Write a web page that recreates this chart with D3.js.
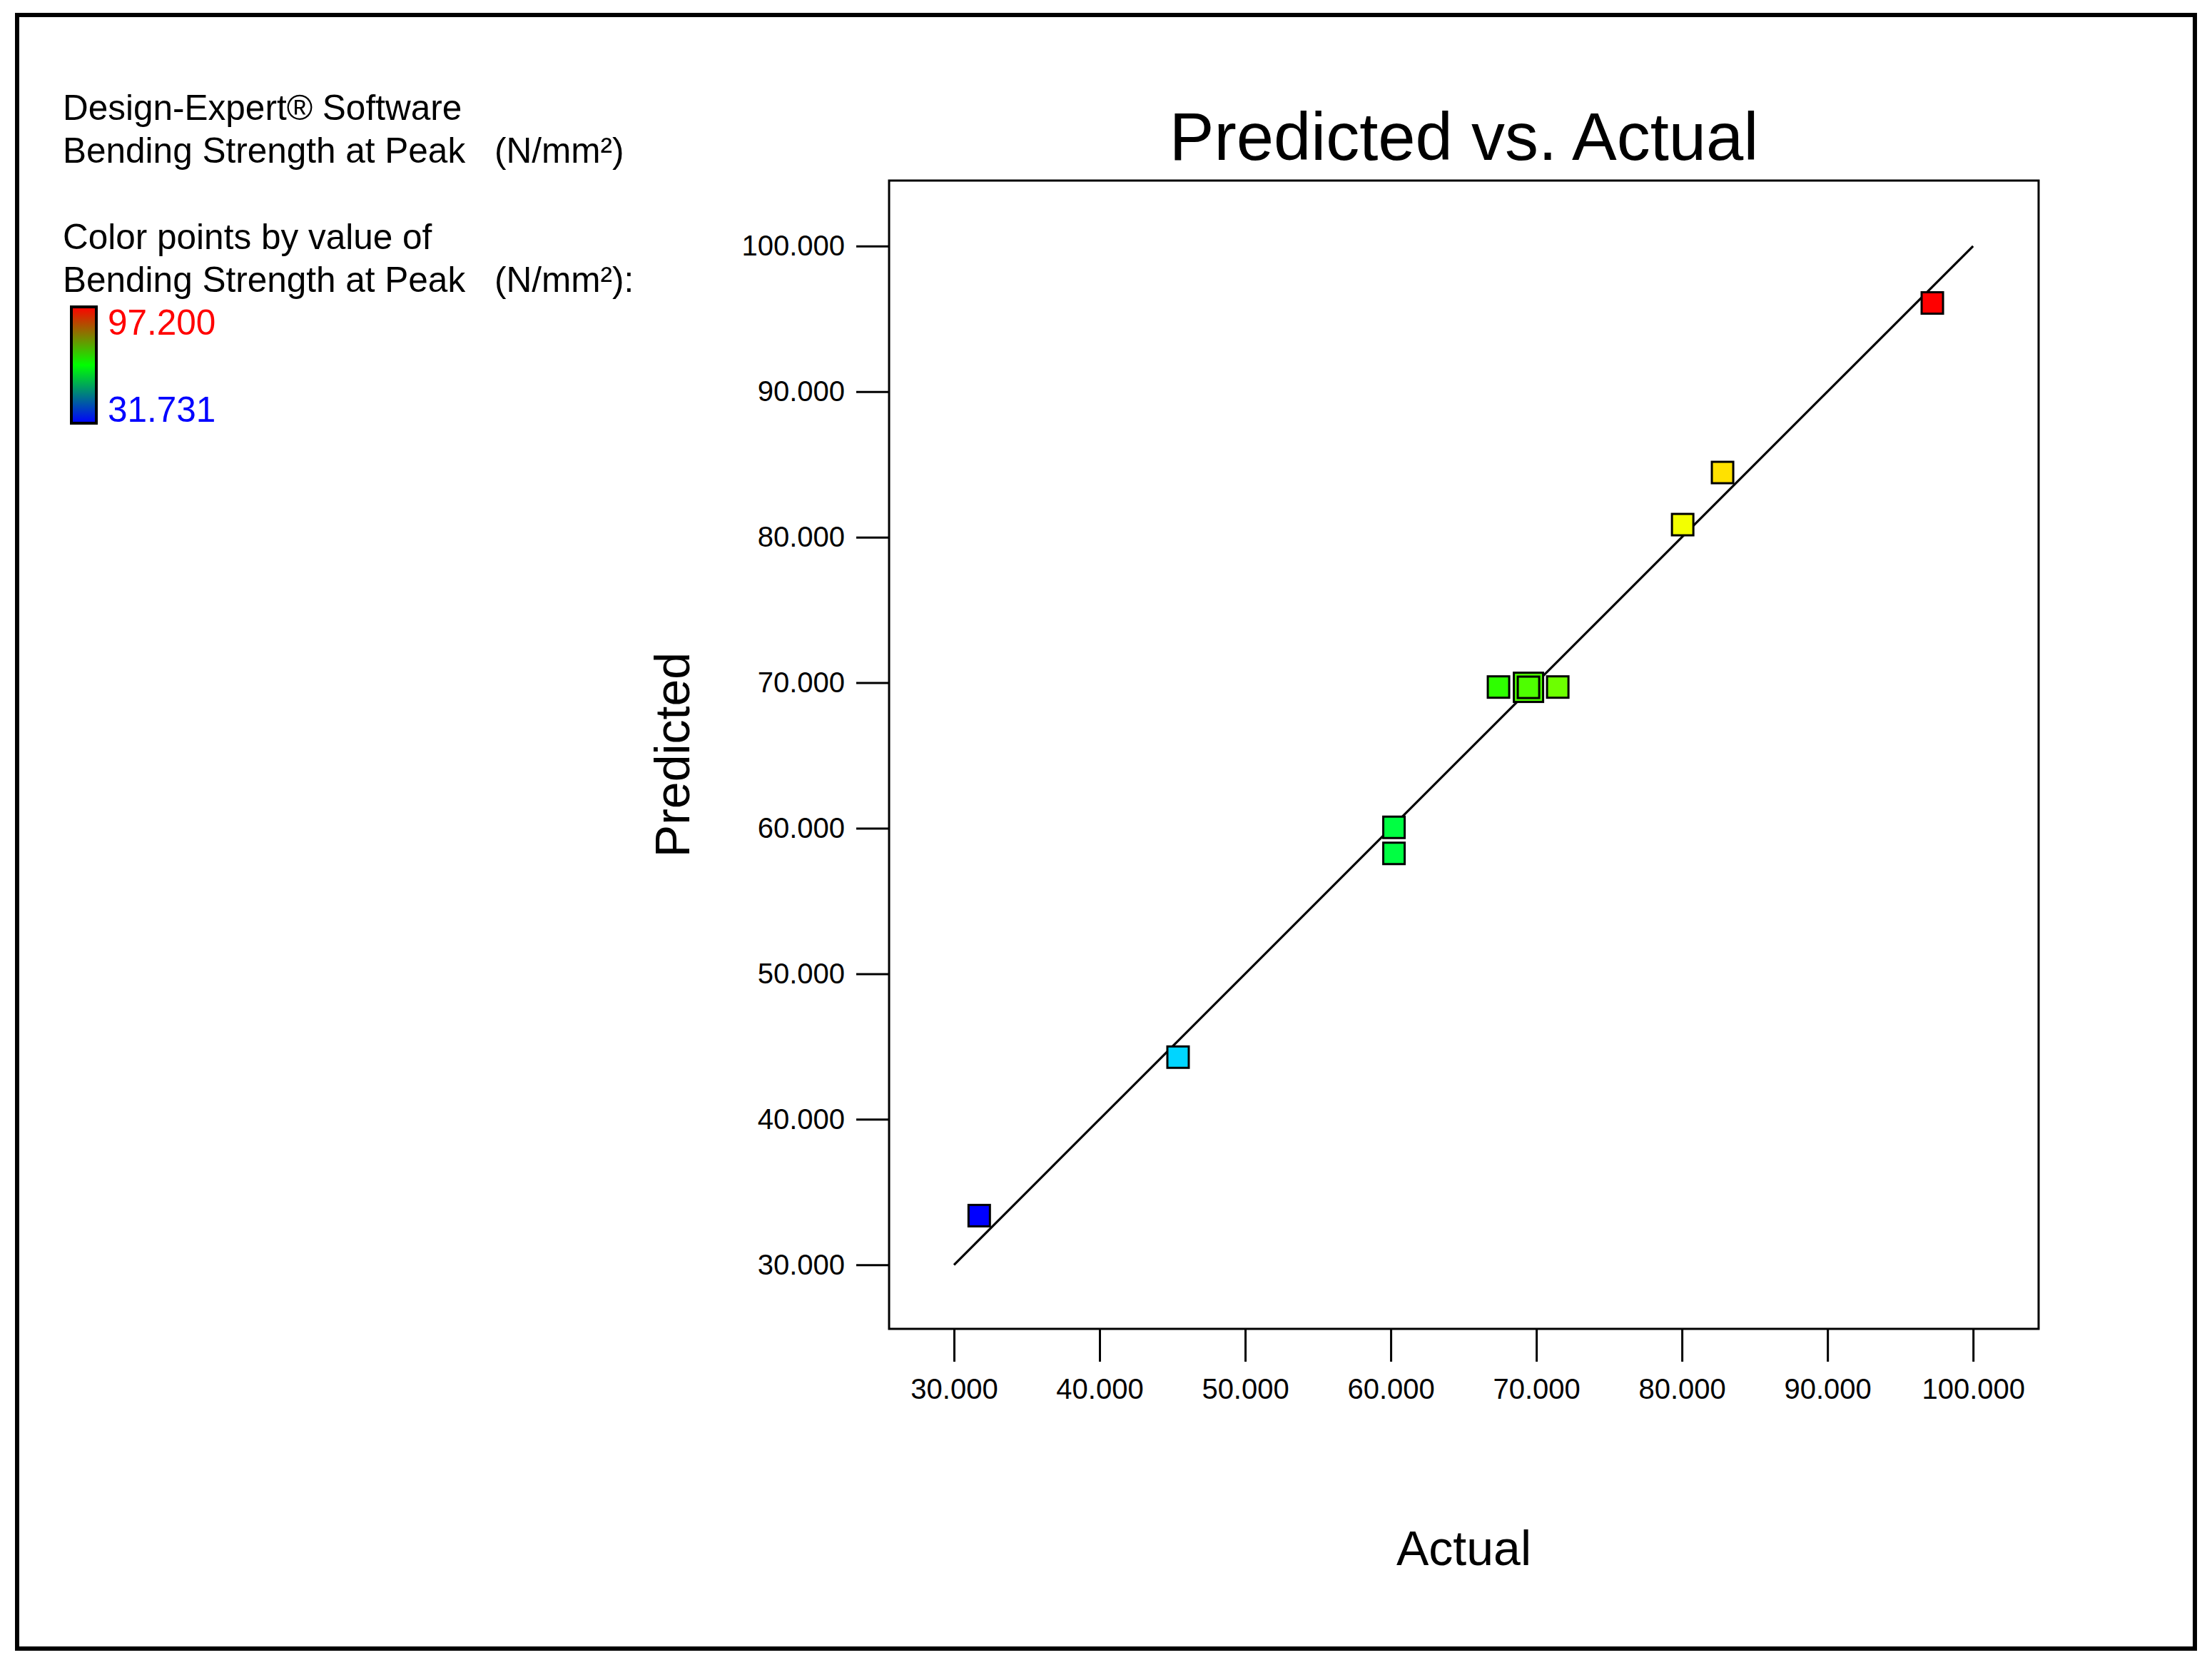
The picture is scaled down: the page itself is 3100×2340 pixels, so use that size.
<!DOCTYPE html>
<html>
<head>
<meta charset="utf-8">
<script src="https://cdn.jsdelivr.net/npm/d3@7"></script>
<style>
  body { margin: 0; background: #fff; }
  svg { display: block; font-family: "Liberation Sans", Arial, sans-serif; }
</style>
</head>
<body>
<div id="chart"></div>
<script>
// run data: actual vs predicted bending strength (N/mm²)
const actual    = [31.731, 45.39, 60.22, 60.22, 67.40, 69.46, 71.47, 80.05, 82.79, 97.20];
const predicted = [33.38, 44.27, 60.06, 58.27, 69.70, 69.68, 69.70, 80.86, 84.44, 96.09];
// number of runs sitting on the same spot (drawn as a doubled box)
const overlap   = [1, 1, 1, 1, 1, 2, 1, 1, 1, 1];

const tickValues = [30, 40, 50, 60, 70, 80, 90, 100];
const colorRange = [31.731, 97.200];
const legendLines = [
    ["Design-Expert® Software", ""],
    ["Bending Strength at Peak", "(N/mm²)"],
    ["", ""],
    ["Color points by value of", ""],
    ["Bending Strength at Peak", "(N/mm²):"]
];

const width = 3100, height = 2340;
const plot = {left: 1246, right: 2857, top: 253, bottom: 1862};

const svg = d3.select("#chart").append("svg")
    .attr("width", width)
    .attr("height", height)
    .attr("viewBox", [0, 0, width, height]);

svg.append("rect")
    .attr("width", width).attr("height", height)
    .attr("fill", "#fff");

// outer frame
svg.append("rect")
    .attr("x", 24).attr("y", 21)
    .attr("width", 3052).attr("height", 2289)
    .attr("fill", "none")
    .attr("stroke", "#000")
    .attr("stroke-width", 6);

const x = d3.scaleLinear()
    .domain([25.54, 104.5])
    .range([plot.left, plot.right]);

const y = d3.scaleLinear()
    .domain([25.6, 104.5])
    .range([plot.bottom, plot.top]);

// hue runs from blue (low) to red (high)
const hue = d3.scaleLinear().domain(colorRange).range([240, 0]);
const color = v => d3.hsl(hue(v), 1, 0.5).formatHex();

// axes
const fmt = d3.format(".3f");

svg.append("g")
    .attr("transform", `translate(${plot.left},0)`)
    .call(d3.axisLeft(y).tickValues(tickValues).tickFormat(fmt).tickSize(46).tickPadding(16))
    .call(g => g.select(".domain").remove())
    .call(g => g.selectAll("line").attr("stroke-width", 3))
    .call(g => g.selectAll("text")
        .attr("font-size", 40)
        .attr("font-family", "Liberation Sans, Arial, sans-serif")
        .attr("fill", "#000"));

svg.append("g")
    .attr("transform", `translate(0,${plot.bottom})`)
    .call(d3.axisBottom(x).tickValues(tickValues).tickFormat(fmt).tickSize(46).tickPadding(24))
    .call(g => g.select(".domain").remove())
    .call(g => g.selectAll("line").attr("stroke-width", 3))
    .call(g => g.selectAll("text")
        .attr("font-size", 40)
        .attr("font-family", "Liberation Sans, Arial, sans-serif")
        .attr("fill", "#000"));

// plot frame
svg.append("rect")
    .attr("x", plot.left).attr("y", plot.top)
    .attr("width", plot.right - plot.left)
    .attr("height", plot.bottom - plot.top)
    .attr("fill", "none")
    .attr("stroke", "#000")
    .attr("stroke-width", 3);

// 1:1 line
svg.append("line")
    .attr("x1", x(30)).attr("y1", y(30))
    .attr("x2", x(100)).attr("y2", y(100))
    .attr("stroke", "#000")
    .attr("stroke-width", 3.2);

// points
const points = actual.map((a, i) => ({a, p: predicted[i], n: overlap[i]}));

const pt = svg.append("g")
    .attr("stroke", "#000")
    .attr("stroke-width", 3)
    .selectAll("g")
    .data(points)
    .join("g")
        .attr("transform", d => `translate(${x(d.a)},${y(d.p)})`);

pt.filter(d => d.n > 1).append("rect")
    .attr("x", -20.5).attr("y", -20.5)
    .attr("width", 41).attr("height", 41)
    .attr("fill", d => color(d.a));

pt.append("rect")
    .attr("x", -15).attr("y", -15)
    .attr("width", 30).attr("height", 30)
    .attr("fill", d => color(d.a));

// titles
svg.append("text")
    .attr("x", (plot.left + plot.right) / 2)
    .attr("y", 224)
    .attr("text-anchor", "middle")
    .attr("font-size", 94)
    .text("Predicted vs. Actual");

svg.append("text")
    .attr("x", (plot.left + plot.right) / 2)
    .attr("y", 2193)
    .attr("text-anchor", "middle")
    .attr("font-size", 68)
    .text("Actual");

svg.append("text")
    .attr("transform", `translate(966,${(plot.top + plot.bottom) / 2}) rotate(-90)`)
    .attr("text-anchor", "middle")
    .attr("font-size", 68)
    .text("Predicted");

// legend text
const legend = svg.append("g").attr("font-size", 49.5);
legendLines.forEach(([main, unit], i) => {
    const by = 168 + i * 60.25;
    if (main) legend.append("text").attr("x", 88).attr("y", by).text(main);
    if (unit) legend.append("text").attr("x", 693).attr("y", by).text(unit);
});

// colour bar
const grad = svg.append("defs").append("linearGradient")
    .attr("id", "bar")
    .attr("x1", 0).attr("y1", 0).attr("x2", 0).attr("y2", 1);
grad.selectAll("stop")
    .data([["0%", "#ff0000"], ["50%", "#00ff00"], ["100%", "#0000ff"]])
    .join("stop")
        .attr("offset", d => d[0])
        .attr("stop-color", d => d[1]);

svg.append("rect")
    .attr("x", 100).attr("y", 430)
    .attr("width", 35).attr("height", 163)
    .attr("fill", "url(#bar)")
    .attr("stroke", "#000")
    .attr("stroke-width", 4);

svg.append("text")
    .attr("x", 151).attr("y", 469)
    .attr("font-size", 49.5)
    .attr("fill", "#ff0000")
    .text(colorRange[1].toFixed(3));

svg.append("text")
    .attr("x", 151).attr("y", 591)
    .attr("font-size", 49.5)
    .attr("fill", "#0000ff")
    .text(colorRange[0].toFixed(3));
</script>
</body>
</html>
